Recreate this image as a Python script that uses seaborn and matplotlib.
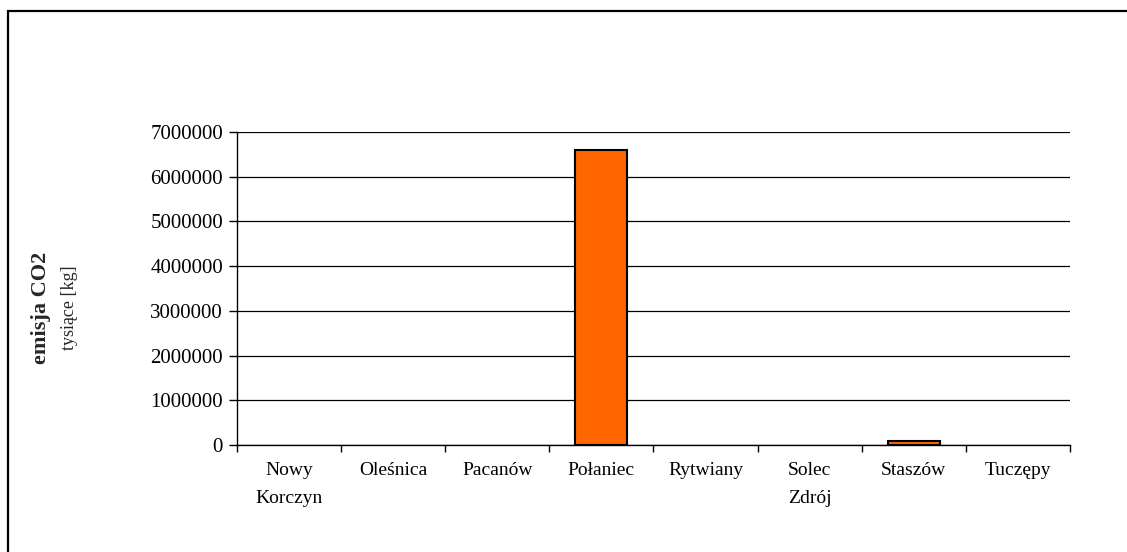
import matplotlib
matplotlib.use("Agg")
import matplotlib.pyplot as plt
from matplotlib.patches import Rectangle
from matplotlib.ticker import FixedLocator
import seaborn as sns
import pandas as pd

# CO2 emissions by municipality (thousands of kg)
gminy = ["Nowy\nKorczyn", "Oleśnica", "Pacanów", "Połaniec",
         "Rytwiany", "Solec\nZdrój", "Staszów", "Tuczępy"]
emisja = [0, 0, 0, 6600000, 0, 0, 85000, 0]
y_ticks = [0, 1000000, 2000000, 3000000, 4000000, 5000000, 6000000, 7000000]

df = pd.DataFrame({"gmina": gminy, "emisja": emisja})

sns.set_theme(style="white")
plt.rcParams["font.family"] = ["Liberation Serif", "DejaVu Serif"]

fig = plt.figure(figsize=(11.27, 5.52), dpi=100)
ax = fig.add_axes([0.2103, 0.1938, 0.9494 - 0.2103, 0.7609 - 0.1938])

sns.barplot(data=df, x="gmina", y="emisja", ax=ax, color="#FF6600",
            saturation=1, width=0.5, edgecolor="black", linewidth=1.5,
            zorder=3)

# empty categories get no visible outline
for patch in ax.patches:
    if patch.get_height() == 0:
        patch.set_linewidth(0)

ax.set_ylim(0, 7000000)
ax.set_xlim(-0.5, len(gminy) - 0.5)
ax.set_yticks(y_ticks)
ax.set_yticklabels([str(v) for v in y_ticks], fontsize=15)
ax.yaxis.grid(True, color="black", linewidth=0.9)
ax.set_axisbelow(True)

for side in ["top", "right"]:
    ax.spines[side].set_visible(False)
for side in ["left", "bottom"]:
    ax.spines[side].set_color("black")
    ax.spines[side].set_linewidth(1.0)

# category labels without marks, separators between categories
ax.tick_params(axis="x", which="major", length=0, pad=12, labelsize=14,
               colors="black")
ax.set_xticklabels(gminy, linespacing=1.9)
ax.xaxis.set_minor_locator(FixedLocator([i - 0.5 for i in range(len(gminy) + 1)]))
ax.tick_params(axis="x", which="minor", length=5, width=1, color="black",
               bottom=True)
ax.tick_params(axis="y", length=6, width=1, color="black", left=True,
               pad=4, colors="black")
ax.set_xlabel("")
ax.set_ylabel("")

# two-line axis title: bold quantity, regular unit
fig.text(0.036, 0.442, "emisja CO2", rotation=90, fontsize=16,
         fontweight="bold", ha="center", va="center")
fig.text(0.062, 0.443, "tysiące [kg]", rotation=90, fontsize=13,
         ha="center", va="center")

# chart frame
fig.patches.append(Rectangle((0.0075, -0.05), 1.05, 1.03,
                             transform=fig.transFigure, fill=False,
                             edgecolor="black", linewidth=1.6))

fig.savefig("out.png", dpi=100, facecolor="white")
